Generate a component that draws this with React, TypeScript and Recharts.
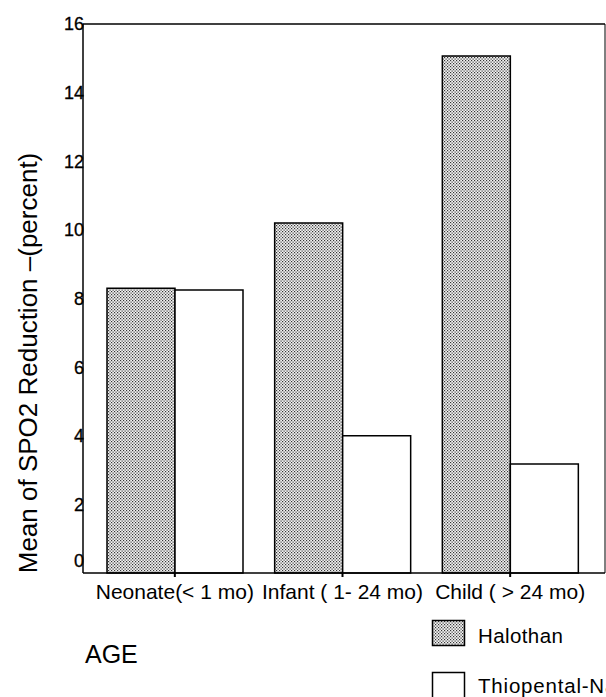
import React from 'react'
import { BarChart, Bar, XAxis, YAxis, ReferenceLine } from 'recharts'

// Chart values
const ageGroups = ['Neonate(< 1 mo)', 'Infant ( 1- 24 mo)', 'Child ( > 24 mo)']
const halothan = [8.3, 10.2, 15.07]
const thiopental = [8.25, 4.0, 3.18]
const yTicks = [0, 2, 4, 6, 8, 10, 12, 14, 16]

const FONT = '"Liberation Sans", Arial, Helvetica, sans-serif'

const chartData = ageGroups.map((age, i) => ({
  age,
  halothan: halothan[i],
  thiopental: thiopental[i]
}))

function YTick(props: any) {
  const { x, y, payload } = props
  // the zero label sits a bit above the axis in the original
  const shift = payload.value === 0 ? -12 : 0
  return (
    <text x={x + 1} y={y + shift} dy="0.36em" textAnchor="end" fontSize={18} fontFamily={FONT} fill="#000" stroke="#000" strokeWidth={0.3}>
      {payload.value}
    </text>
  )
}

function XTick(props: any) {
  const { x, y, payload } = props
  return (
    <text x={x} y={y} dy="0.72em" textAnchor="middle" fontSize={21} fontFamily={FONT} fill="#000">
      {payload.value}
    </text>
  )
}

function YLabel() {
  return (
    <text
      x={28}
      y={363}
      transform="rotate(-90, 28, 363)"
      textAnchor="middle"
      dominantBaseline="central"
      fontSize={26}
      fontFamily={FONT}
      fill="#000"
    >
      Mean of SPO2 Reduction –(percent)
    </text>
  )
}

function Stipple({ id }: { id: string }) {
  return (
    <pattern id={id} width={3} height={3} patternUnits="userSpaceOnUse">
      <rect width={3} height={3} fill="#f4f4f4" />
      <rect x={0} y={0} width={1.2} height={1.2} fill="#333" />
      <rect x={1.5} y={1.5} width={1.2} height={1.2} fill="#333" />
    </pattern>
  )
}

export default function App() {
  return (
    <div style={{ position: 'absolute', left: 0, top: 0, width: 606, height: 697, overflow: 'hidden', background: '#fff' }}>
      <BarChart
        width={606}
        height={697}
        data={chartData}
        margin={{ top: 24, right: 0, left: 0, bottom: 94 }}
        barCategoryGap={16}
        barGap={0}
      >
        <defs>
          <Stipple id="stipple" />
        </defs>
        <XAxis
          dataKey="age"
          height={30}
          interval={0}
          padding={{ left: 8, right: 11 }}
          axisLine={{ stroke: '#000', strokeWidth: 1.5 }}
          tickLine={{ stroke: '#000', strokeWidth: 2 }}
          tickSize={4}
          tickMargin={7}
          tick={<XTick />}
        />
        <YAxis
          yAxisId="left"
          width={83}
          domain={[0, 16]}
          ticks={yTicks}
          interval={0}
          axisLine={{ stroke: '#000', strokeWidth: 1.5 }}
          tickLine={false}
          tickSize={0}
          tickMargin={0}
          tick={<YTick />}
          label={<YLabel />}
        />
        <YAxis
          yAxisId="right"
          orientation="right"
          width={1}
          domain={[0, 16]}
          tick={false}
          tickLine={false}
          axisLine={{ stroke: '#000', strokeWidth: 1 }}
        />
        <ReferenceLine yAxisId="left" y={16} stroke="#000" strokeWidth={1.5} />
        <Bar
          yAxisId="left"
          dataKey="halothan"
          fill="url(#stipple)"
          stroke="#000"
          strokeWidth={1.5}
          isAnimationActive={false}
        />
        <Bar
          yAxisId="left"
          dataKey="thiopental"
          fill="#fff"
          stroke="#000"
          strokeWidth={1.5}
          isAnimationActive={false}
        />
      </BarChart>

      <div style={{ position: 'absolute', left: 85, top: 642, fontFamily: FONT, fontSize: 25, lineHeight: '25px' }}>AGE</div>

      <svg style={{ position: 'absolute', left: 0, top: 0 }} width={606} height={697}>
        <defs>
          <Stipple id="stipple-legend" />
        </defs>
        <rect x={432.5} y={620.5} width={32} height={25} fill="url(#stipple-legend)" stroke="#000" strokeWidth={1.5} />
        <text x={478} y={643} fontSize={20.5} fontFamily={FONT} fill="#000" letterSpacing={0.4}>Halothan</text>
        <rect x={432.5} y={672.5} width={32} height={30} fill="#fff" stroke="#000" strokeWidth={1.5} />
        <text x={478} y={693} fontSize={20.5} fontFamily={FONT} fill="#000" letterSpacing={0.8}>Thiopental-Na</text>
      </svg>
    </div>
  )
}
